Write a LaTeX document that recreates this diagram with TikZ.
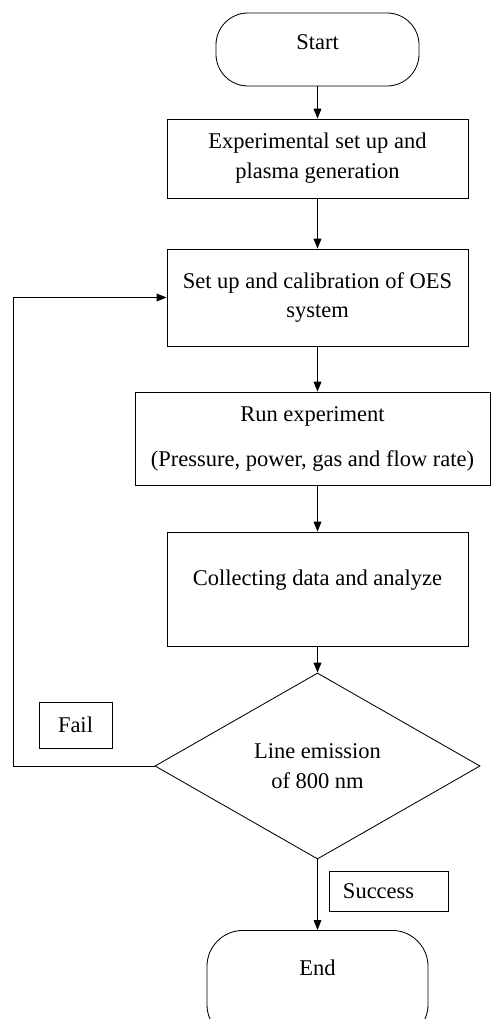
\documentclass[tikz,border=0pt]{standalone}
\usepackage{fontspec}
\setmainfont{Liberation Serif}
\usetikzlibrary{positioning, shapes.geometric, arrows.meta, calc}

\begin{document}
\begin{tikzpicture}[x=0.025cm, y=-0.025cm,
    every node/.style={font=\fontsize{16pt}{21.3pt}\selectfont, line width=0.6pt},
    procbox/.style={draw, rectangle, align=center, minimum width=7.525cm},
    termbox/.style={draw, rectangle, rounded corners=0.8cm, align=center},
    decbox/.style={draw, diamond, align=center, inner sep=0pt},
    tagbox/.style={draw, rectangle},
    flowarrow/.style={-{Triangle[width=5.5pt,length=7pt]}, line width=0.6pt}]
  \useasboundingbox (0,0) rectangle (491,1019);

  \node[termbox, minimum width=5.075cm, minimum height=1.825cm,
        text height=0.4cm, text depth=0.4cm] (start) at (317.5,49.5) {Start};
  \node[procbox, minimum height=1.975cm] (setup) at (317.5,158.5) {Experimental set up and\\plasma generation};
  \node[procbox, minimum height=2.425cm] (calib) at (317.5,297.5) {Set up and calibration of OES\\system};
  \node[procbox, minimum width=8.875cm, minimum height=2.325cm] (run) at (312.5,438.5)
       {Run experiment\\[10.7pt](Pressure, power, gas and flow rate)};
  \node[procbox, minimum height=2.85cm, text height=0.45cm, text depth=0.65cm] (collect) at (317.5,589)
       {Collecting data and analyze};
  \node[decbox, minimum width=8.125cm, minimum height=4.65cm] (decide) at (317.5,766) {Line emission\\of 800 nm};
  \node[tagbox, minimum width=1.825cm, minimum height=1.15cm] (fail) at (75.5,725) {Fail};
  \node[tagbox, minimum height=1cm, text width=2.275cm, inner xsep=0.35cm, align=left] (success) at (388.5,891) {Success};
  \node[termbox, rounded corners=0.9cm, anchor=north, minimum width=5.525cm, inner ysep=0.3cm,
        text height=0.825cm, text depth=1.325cm] (finish) at (317.5,930) {End};

  \coordinate (back) at (13,766);

  \draw[flowarrow] (start) -- (setup);
  \draw[flowarrow] (setup) -- (calib);
  \draw[flowarrow] (calib.south) -- (calib.south |- run.north);
  \draw[flowarrow] (run.south -| collect.north) -- (collect.north);
  \draw[flowarrow] (collect) -- (decide);
  \draw[flowarrow] (decide) -- (finish);
  \draw[flowarrow] (decide.west) -- (back) |- (calib.west);
\end{tikzpicture}
\end{document}
